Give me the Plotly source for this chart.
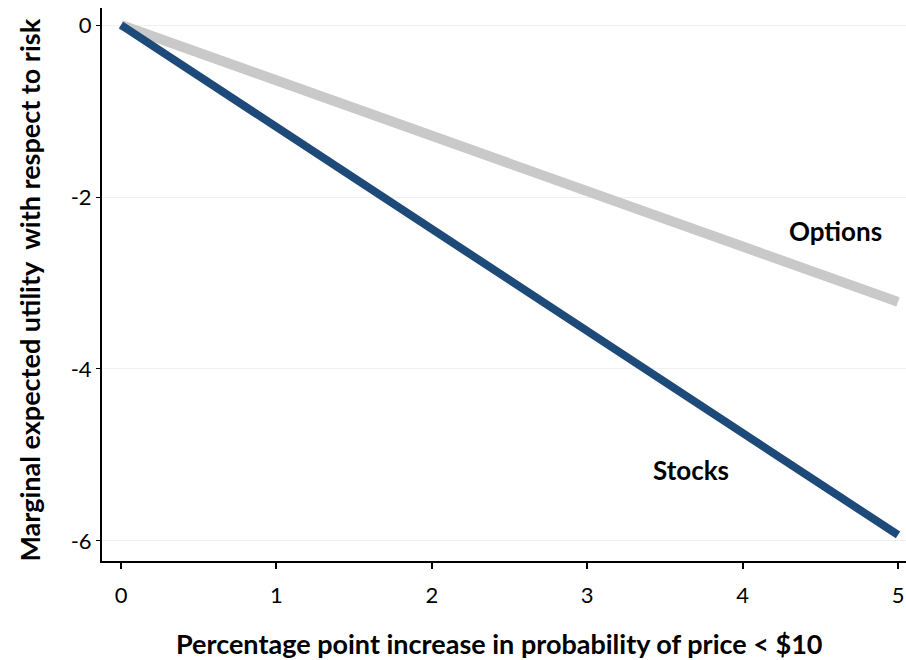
import plotly.graph_objects as go

x_vals = [0, 5]
stocks = [0, -5.93]
options = [0, -3.22]
x_ticks = [0, 1, 2, 3, 4, 5]
y_ticks = [0, -2, -4, -6]
y_tick_text = ["0", "-2", "-4", "-6"]

FONT = "Lato"

fig = go.Figure()
fig.add_trace(go.Scatter(x=x_vals, y=options, mode="lines",
                         line=dict(color="#c9c9c9", width=10), name="Options"))
fig.add_trace(go.Scatter(x=x_vals, y=stocks, mode="lines",
                         line=dict(color="#1d4a78", width=8), name="Stocks"))

fig.add_annotation(x=4.598, y=-2.40, text="<b>Options</b>", showarrow=False,
                   xanchor="center", yanchor="middle",
                   font=dict(size=26, color="black", family=FONT))
fig.add_annotation(x=3.668, y=-5.17, text="<b>Stocks</b>", showarrow=False,
                   xanchor="center", yanchor="middle",
                   font=dict(size=26, color="black", family=FONT))

fig.add_annotation(xref="paper", yref="paper", x=0.4938, y=-0.1483,
                   xanchor="center", yanchor="middle",
                   text="<b>Percentage point increase in probability of price < $10</b>",
                   showarrow=False, font=dict(size=27, color="black", family=FONT))
fig.add_annotation(xref="paper", yref="paper", x=-0.09, y=0.4901, textangle=-90,
                   xanchor="center", yanchor="middle",
                   text="<b>Marginal expected utility  with respect to risk</b>",
                   showarrow=False, font=dict(size=27, color="black", family=FONT))

fig.update_layout(
    width=906, height=660,
    margin=dict(l=102, r=0, t=8, b=99),
    plot_bgcolor="white", paper_bgcolor="white",
    showlegend=False,
    font=dict(family=FONT, color="black", size=22),
)
fig.update_xaxes(range=[-0.1223, 5.0515], tickvals=x_ticks, showgrid=False,
                 automargin=False,
                 showline=True, linecolor="black", linewidth=2,
                 ticks="outside", ticklen=6, tickwidth=2, tickcolor="black",
                 ticklabelstandoff=8,
                 zeroline=False)
fig.update_yaxes(range=[-6.233, 0.198], tickvals=y_ticks, ticktext=y_tick_text,
                 showgrid=True, automargin=False,
                 gridcolor="#f0f0f0", gridwidth=1,
                 showline=True, linecolor="black", linewidth=2,
                 ticks="outside", ticklen=4, tickwidth=1, tickcolor="black",
                 zeroline=False)

fig.write_html("out.html",
               config={"displayModeBar": False},
               post_script="document.body.style.margin='0';document.body.style.overflow='hidden';")
